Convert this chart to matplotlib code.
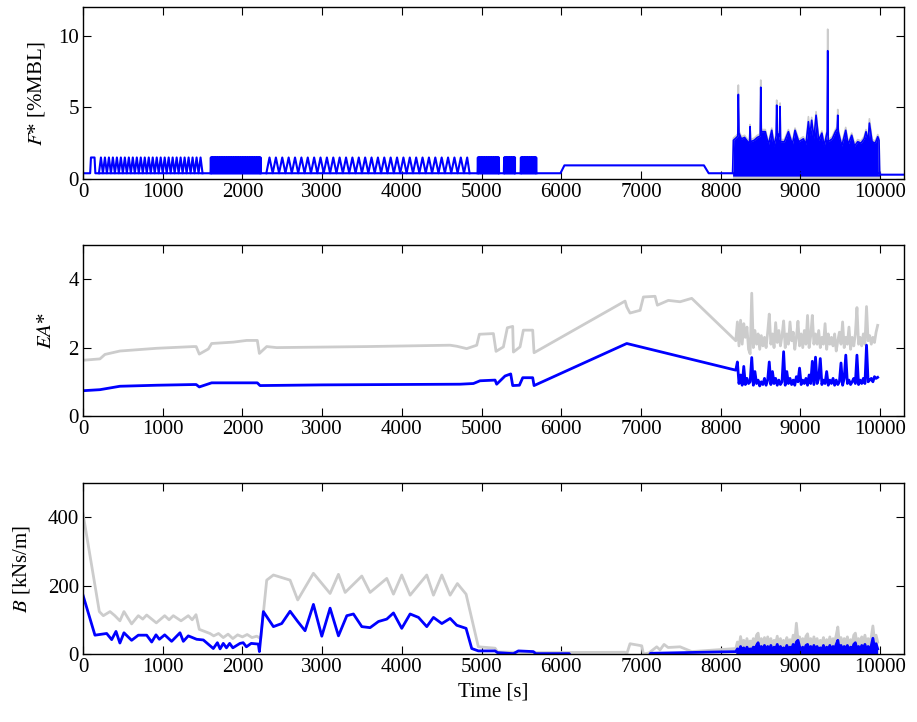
import numpy as np
import matplotlib
matplotlib.use("Agg")
import matplotlib.pyplot as plt

plt.rcParams['font.family'] = 'serif'
plt.rcParams['font.serif'] = ['Liberation Serif', 'DejaVu Serif']
plt.rcParams['mathtext.fontset'] = 'stix'

BLUE = (0.0, 0.0, 1.0)
GREY = (0.8, 0.8, 0.8)

# ---------------- F* [%MBL] ----------------
# quasi-static part of the tension record
F_base_t = [0, 90, 100, 145, 155, 5990, 6040, 7790, 7850, 9990, 10010, 10300]
F_base_v = [0.4, 0.4, 1.5, 1.5, 0.4, 0.4, 0.95, 0.95, 0.4, 0.4, 0.3, 0.3]

# regular (harmonic) test blocks: start, end, period, min, max
osc_start = [200, 1600, 2300, 4950, 5280, 5490]
osc_end = [1500, 2230, 4850, 5220, 5420, 5690]
osc_period = [50, 8, 80, 8, 8, 8]
osc_low = [0.4, 0.4, 0.4, 0.4, 0.4, 0.4]
osc_high = [1.5, 1.5, 1.5, 1.5, 1.5, 1.5]

# irregular sea state: peak envelope of the record
F_storm_t = [8150, 8160, 8200, 8215, 8222, 8230, 8260, 8300, 8340, 8362,
             8369, 8376, 8420, 8460, 8496, 8503, 8510, 8560, 8600, 8641,
             8670, 8696, 8703, 8710, 8738, 8745, 8752, 8800, 8850, 8900,
             8933, 8980, 9038, 9070, 9101, 9120, 9142, 9170, 9197, 9230,
             9270, 9300, 9336, 9343, 9350, 9400, 9440, 9462, 9469, 9476,
             9520, 9569, 9600, 9644, 9680, 9720, 9760, 9800, 9824, 9850,
             9866, 9900, 9940, 9971, 9987, 9995]
F_storm_blue = [0.4, 2.7, 2.9, 3.0, 5.9, 3.2, 2.8, 2.9, 2.6, 2.5,
                3.65, 2.6, 2.7, 2.9, 3.0, 6.4, 3.3, 3.3, 2.4, 3.4,
                2.3, 3.0, 5.15, 3.2, 3.0, 5.05, 2.6, 2.6, 3.3, 2.4,
                3.4, 2.6, 2.8, 2.4, 4.0, 3.0, 4.1, 2.8, 4.45, 2.7,
                3.2, 2.3, 3.3, 8.95, 2.6, 2.8, 3.3, 3.5, 4.45, 3.3,
                2.3, 3.4, 2.4, 3.05, 2.3, 2.6, 2.5, 2.8, 3.3, 2.6,
                3.9, 2.6, 2.5, 2.95, 2.7, 0.35]
F_storm_grey = [0.4, 2.85, 3.05, 3.15, 6.55, 3.35, 2.95, 3.05, 2.75, 2.65,
                3.8, 2.75, 2.85, 3.05, 3.15, 6.9, 3.45, 3.45, 2.55, 3.55,
                2.45, 3.15, 5.5, 3.35, 3.15, 5.3, 2.75, 2.75, 3.45, 2.55,
                3.55, 2.75, 2.95, 2.55, 4.35, 3.15, 4.3, 2.95, 4.7, 2.85,
                3.35, 2.45, 3.45, 10.45, 2.75, 2.95, 3.45, 3.65, 4.85, 3.45,
                2.45, 3.6, 2.55, 3.2, 2.45, 2.75, 2.65, 2.95, 3.45, 2.75,
                4.2, 2.75, 2.65, 3.1, 2.85, 0.35]
F_storm_low_blue = 0.2
F_storm_low_grey = 0.05

# ---------------- EA* ----------------
EA_grey_t = [0, 213, 275, 463, 925, 1385, 1420, 1459, 1573, 1614,
             1886, 2054, 2187, 2213, 2305, 2430, 3560, 4605, 4689, 4814,
             4940, 4973, 5149, 5182, 5274, 5324, 5391, 5400, 5483, 5525,
             5642, 5659, 6801, 6822, 6863, 6989, 7031, 7177, 7206, 7344,
             7491, 7637]
EA_grey_v = [1.63, 1.67, 1.80, 1.90, 1.98, 2.03, 2.03, 1.81, 1.96, 2.12,
             2.16, 2.21, 2.21, 1.83, 2.03, 2.00, 2.03, 2.07, 2.04, 1.97,
             2.07, 2.39, 2.41, 1.89, 2.02, 2.58, 2.62, 1.87, 2.02, 2.51,
             2.51, 1.85, 3.36, 3.19, 3.01, 3.09, 3.48, 3.50, 3.24, 3.38,
             3.34, 3.44]
EA_blue_t = [0, 213, 463, 925, 1385, 1420, 1459, 1614, 2187, 2221,
             3000, 4730, 4898, 4981, 5170, 5190, 5295, 5366, 5391, 5475,
             5517, 5642, 5659, 6822]
EA_blue_v = [0.74, 0.77, 0.87, 0.90, 0.92, 0.92, 0.85, 0.97, 0.97, 0.89,
             0.91, 0.93, 0.95, 1.03, 1.05, 0.93, 1.17, 1.23, 0.89, 0.90,
             1.12, 1.12, 0.89, 2.12]

# irregular sea state, one value every 20 s from 8190 s
storm_t0 = 8190
storm_dt = 20
EA_storm_grey = [2.2, 2.75, 2.05, 2.8, 2.1, 2.7, 2.3, 2.6, 1.95, 1.82,
                 3.59, 2.0, 2.5, 2.1, 2.4, 1.95, 2.35, 2.05, 2.3, 2.0,
                 2.45, 2.98, 2.1, 2.4, 2.0, 2.73, 2.15, 2.5, 2.05, 2.35,
                 2.78, 2.0, 2.4, 2.1, 2.75, 2.2, 2.45, 1.95, 2.3, 2.77,
                 2.05, 2.4, 2.0, 2.5, 2.1, 2.94, 2.0, 2.35, 2.94, 2.1,
                 2.4, 2.1, 2.5, 2.0, 2.3, 2.1, 2.7, 1.95, 2.4, 2.1,
                 2.3, 2.05, 2.4, 1.9, 2.2, 2.45, 2.1, 2.75, 2.0, 2.3,
                 2.1, 2.6, 1.95, 2.3, 2.05, 2.4, 3.17, 2.1, 2.3, 2.05,
                 2.4, 2.1, 3.2, 2.2, 2.35, 2.1, 2.3, 2.15, 2.45, 2.65]
EA_storm_blue = [1.34, 1.58, 0.95, 1.2, 0.9, 1.45, 0.92, 1.1, 0.95, 1.0,
                 1.71, 0.9, 1.3, 0.95, 1.05, 0.88, 1.0, 0.92, 1.1, 0.9,
                 1.05, 1.58, 0.92, 1.3, 0.95, 1.1, 0.9, 1.05, 0.92, 1.0,
                 1.88, 0.9, 1.3, 0.95, 1.1, 0.92, 1.05, 0.9, 1.15, 1.0,
                 1.4, 0.92, 1.05, 0.95, 1.1, 0.9, 1.2, 0.95, 1.6, 0.92,
                 1.72, 0.95, 1.1, 1.68, 0.92, 1.05, 0.95, 1.3, 0.9, 1.05,
                 0.95, 1.1, 0.9, 1.05, 0.92, 1.0, 1.55, 0.9, 1.1, 1.78,
                 0.95, 1.05, 0.92, 1.0, 1.1, 0.95, 1.78, 0.92, 1.05, 0.95,
                 1.1, 0.95, 2.07, 1.0, 1.05, 1.1, 1.0, 1.15, 1.1, 1.13]

# ---------------- B [kNs/m] ----------------
B_grey_t = [0, 205, 255, 339, 400, 463, 514, 610, 694, 750,
            799, 920, 1025, 1080, 1133, 1230, 1321, 1370, 1418, 1459,
            1593, 1640, 1700, 1760, 1820, 1880, 1940, 2000, 2060, 2120,
            2180, 2230, 2305, 2389, 2598, 2694, 2891, 3100, 3205, 3289,
            3498, 3602, 3811, 3895, 3999, 4104, 4313, 4397, 4502, 4606,
            4697, 4806, 4960, 5170, 5200, 5700, 6800, 6822, 6863, 7010,
            7031, 7100, 7198, 7240, 7290, 7340, 7491, 7637]
B_grey_v = [411, 124, 112, 124, 112, 97, 124, 88, 112, 102,
            114, 91, 112, 100, 112, 97, 112, 100, 115, 72,
            60, 53, 60, 48, 58, 45, 56, 50, 57, 48,
            52, 45, 216, 231, 216, 158, 236, 177, 233, 180,
            228, 180, 221, 175, 231, 172, 231, 172, 231, 172,
            206, 175, 21, 17, 6, 4, 5, 0, 30, 24,
            0, 3, 21, 12, 28, 19, 21, 7]
B_blue_t = [0, 150, 297, 360, 414, 463, 514, 610, 694, 799,
            862, 916, 958, 1025, 1112, 1217, 1259, 1321, 1426, 1510,
            1635, 1686, 1720, 1760, 1800, 1840, 1880, 1970, 2010, 2050,
            2110, 2200, 2213, 2263, 2389, 2493, 2598, 2694, 2786, 2891,
            2996, 3100, 3205, 3310, 3393, 3498, 3602, 3707, 3811, 3895,
            3999, 4104, 4209, 4313, 4397, 4502, 4606, 4689, 4806, 4877,
            4960, 5170, 5200, 5400, 5462, 5650, 5680, 6100, 6120, 7100,
            7120]
B_blue_v = [172, 55, 60, 42, 66, 32, 62, 40, 55, 55,
            35, 56, 43, 56, 37, 62, 37, 53, 43, 41,
            16, 33, 15, 31, 18, 31, 18, 31, 33, 21,
            31, 29, 7, 124, 80, 89, 125, 95, 68, 145,
            52, 134, 53, 112, 117, 80, 77, 95, 102, 120,
            75, 117, 107, 80, 107, 89, 104, 84, 75, 16,
            9, 9, 4, 1, 9, 7, 1, 1, -5, -5,
            2]
B_storm_grey = [16, 35, 20, 51, 25, 40, 18, 45, 22, 38,
                28, 45, 30, 55, 61, 25, 45, 30, 48, 25,
                50, 28, 45, 22, 40, 30, 52, 25, 45, 30,
                40, 22, 48, 30, 42, 28, 55, 35, 90, 40,
                50, 30, 45, 28, 52, 59, 30, 45, 25, 50,
                30, 45, 25, 40, 30, 48, 22, 42, 30, 50,
                28, 45, 35, 55, 79, 30, 48, 25, 45, 35,
                50, 28, 42, 30, 55, 61, 30, 45, 28, 50,
                35, 55, 30, 45, 28, 50, 82, 40, 55, 35]
B_storm_blue = [7, 15, 8, 22, 10, 18, 6, 20, 10, 15,
                12, 20, 14, 25, 33, 10, 22, 12, 25, 10,
                22, 12, 25, 8, 20, 14, 28, 10, 22, 12,
                18, 10, 25, 12, 20, 14, 28, 15, 35, 40,
                22, 12, 20, 10, 25, 28, 12, 22, 10, 25,
                12, 22, 10, 18, 12, 25, 8, 20, 12, 25,
                10, 22, 15, 28, 40, 12, 25, 10, 22, 15,
                25, 10, 20, 12, 28, 33, 12, 22, 10, 25,
                15, 28, 12, 22, 10, 25, 46, 18, 30, 15]

time_ticks = [0, 1000, 2000, 3000, 4000, 5000, 6000, 7000, 8000, 9000, 10000]


def osc_wave(t0, t1, period, lo, hi):
    """Saw-tooth approximation of a regular wave block."""
    n = int(round((t1 - t0) / period))
    starts = t0 + period * np.arange(n)
    tt = np.column_stack([starts, starts + period / 2.0]).ravel()
    vv = np.tile([lo, hi], n)
    return np.append(tt, t1), np.append(vv, lo)


def style_axis(ax, ylim, yticks, ylabel, pad):
    ax.set_xlim(0, 10300)
    ax.set_ylim(*ylim)
    ax.set_xticks(time_ticks)
    ax.set_yticks(yticks)
    ax.tick_params(direction='in', top=True, right=True, length=5.5,
                   width=0.8, labelsize=15, pad=3)
    for sp in ax.spines.values():
        sp.set_linewidth(1.0)
    ax.set_ylabel(ylabel, fontsize=15, labelpad=pad)


fig = plt.figure(figsize=(9.17, 7.22), dpi=100)
ax1 = fig.add_axes([0.0905, 0.7521, 0.8953, 0.2382])
ax2 = fig.add_axes([0.0905, 0.4238, 0.8953, 0.2369])
ax3 = fig.add_axes([0.0905, 0.0942, 0.8953, 0.2368])

# --- panel 1 ---
ax1.fill_between(F_storm_t, F_storm_low_grey, F_storm_grey, color=GREY, lw=0)
ax1.plot(F_storm_t, F_storm_grey, color=GREY, lw=1.2)
ax1.fill_between(F_storm_t, F_storm_low_blue, F_storm_blue, color=BLUE, lw=0)
ax1.plot(F_storm_t, F_storm_blue, color=BLUE, lw=1.2)
ax1.plot(F_base_t, F_base_v, color=BLUE, lw=1.5)
for i in range(len(osc_start)):
    tt, vv = osc_wave(osc_start[i], osc_end[i], osc_period[i], osc_low[i], osc_high[i])
    ax1.plot(tt, vv, color=BLUE, lw=1.5)
style_axis(ax1, (0, 12), [0, 5, 10], r'$F$* [%MBL]', 8)

# --- panel 2 ---
storm_t = storm_t0 + storm_dt * np.arange(len(EA_storm_grey))
ax2.plot(list(EA_grey_t) + list(storm_t), EA_grey_v + EA_storm_grey, color=GREY, lw=2.0)
ax2.plot(list(EA_blue_t) + list(storm_t), EA_blue_v + EA_storm_blue, color=BLUE, lw=2.0)
style_axis(ax2, (0, 5), [0, 2, 4], r'$EA$*', 9)

# --- panel 3 ---
ax3.plot(list(B_grey_t) + list(storm_t), B_grey_v + B_storm_grey, color=GREY, lw=2.0)
ax3.fill_between(storm_t, 0, B_storm_grey, color=GREY, lw=0)
ax3.plot(list(B_blue_t) + list(storm_t), B_blue_v + B_storm_blue, color=BLUE, lw=2.0)
ax3.fill_between(storm_t, 0, B_storm_blue, color=BLUE, lw=0)
style_axis(ax3, (0, 500), [0, 200, 400], r'$B$ [kNs/m]', 11)
ax3.set_xlabel('Time [s]', fontsize=15, labelpad=4)

fig.savefig('out.png', dpi=100)
